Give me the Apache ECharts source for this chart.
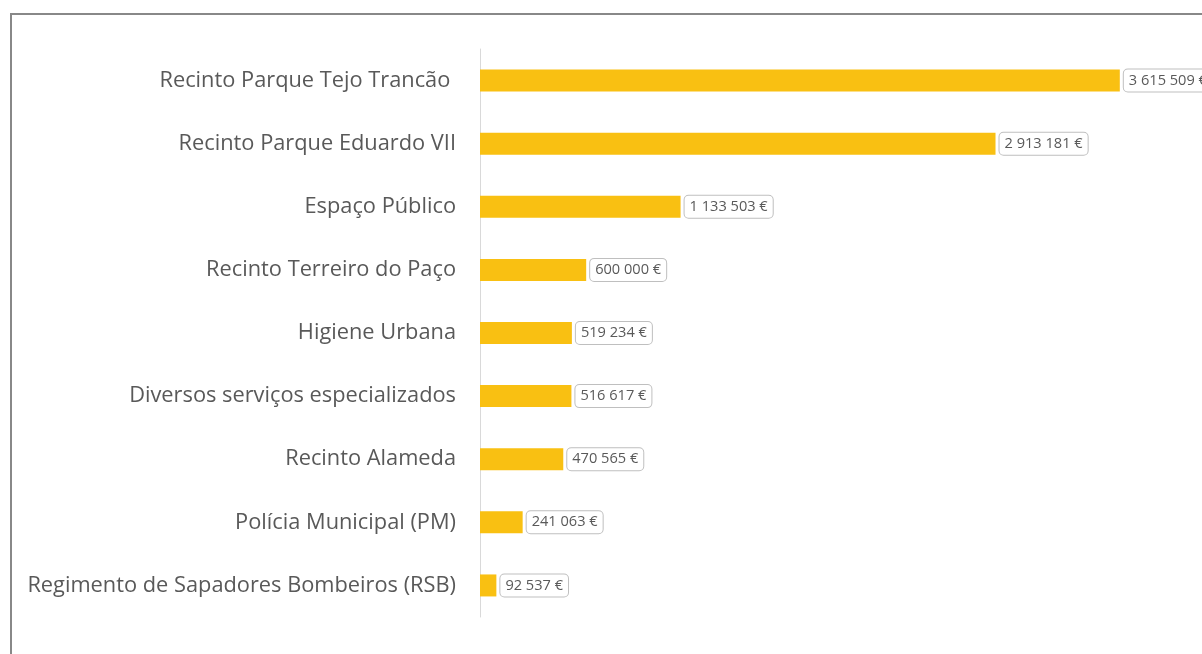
<!DOCTYPE html>
<html>
<head>
<meta charset="utf-8">
<script src="https://cdn.jsdelivr.net/npm/echarts@6/dist/echarts.min.js"></script>
<style>
  html, body { margin: 0; padding: 0; background: #fff; }
  .frame {
    position: absolute;
    left: 10px;
    top: 13px;
    width: 1200px;
    height: 650px;
    border: 2px solid #888888;
    box-sizing: border-box;
  }
  #chart { position: absolute; left: 0; top: 0; width: 1202px; height: 654px; }
</style>
</head>
<body>
<div class="frame"></div>
<div id="chart"></div>
<script>
// categories listed bottom to top (category axis is drawn from the bottom up)
const categories = [
  'Regimento de Sapadores Bombeiros (RSB)',
  'Polícia Municipal (PM)',
  'Recinto Alameda',
  'Diversos serviços especializados',
  'Higiene Urbana',
  'Recinto Terreiro do Paço',
  'Espaço Público',
  'Recinto Parque Eduardo VII',
  'Recinto Parque Tejo Trancão '
]
const values = [92537, 241063, 470565, 516617, 519234, 600000, 1133503, 2913181, 3615509]

function fmtEuro(v) {
  return String(v).replace(/\B(?=(\d{3})+(?!\d))/g, ' ') + ' €'
}

const chart = echarts.init(document.getElementById('chart'))
const option = {
  animation: false,
  grid: {
    left: 480,
    right: 0,
    top: 49,
    bottom: 37,
    containLabel: false
  },
  xAxis: {
    type: 'value',
    min: 0,
    max: 4080000,
    show: false
  },
  yAxis: {
    type: 'category',
    data: categories,
    axisLine: { show: true, lineStyle: { color: '#d9d9d9', width: 1 } },
    axisTick: { show: false },
    axisLabel: {
      color: '#595959',
      fontSize: 21.8,
      fontFamily: 'Open Sans',
      margin: 24,
      padding: [4, 0, 0, 0]
    }
  },
  series: [
    {
      type: 'bar',
      data: values,
      barWidth: 22,
      itemStyle: { color: '#F9C012' },
      label: {
        show: true,
        position: 'right',
        distance: 4,
        formatter: p => fmtEuro(p.value),
        color: '#595959',
        fontSize: 14.6,
        fontFamily: 'Open Sans',
        backgroundColor: '#fff',
        borderColor: '#bfbfbf',
        borderWidth: 1,
        borderRadius: 4,
        padding: [4, 5, 3, 5]
      }
    }
  ]
}
chart.setOption(option)
</script>
</body>
</html>
